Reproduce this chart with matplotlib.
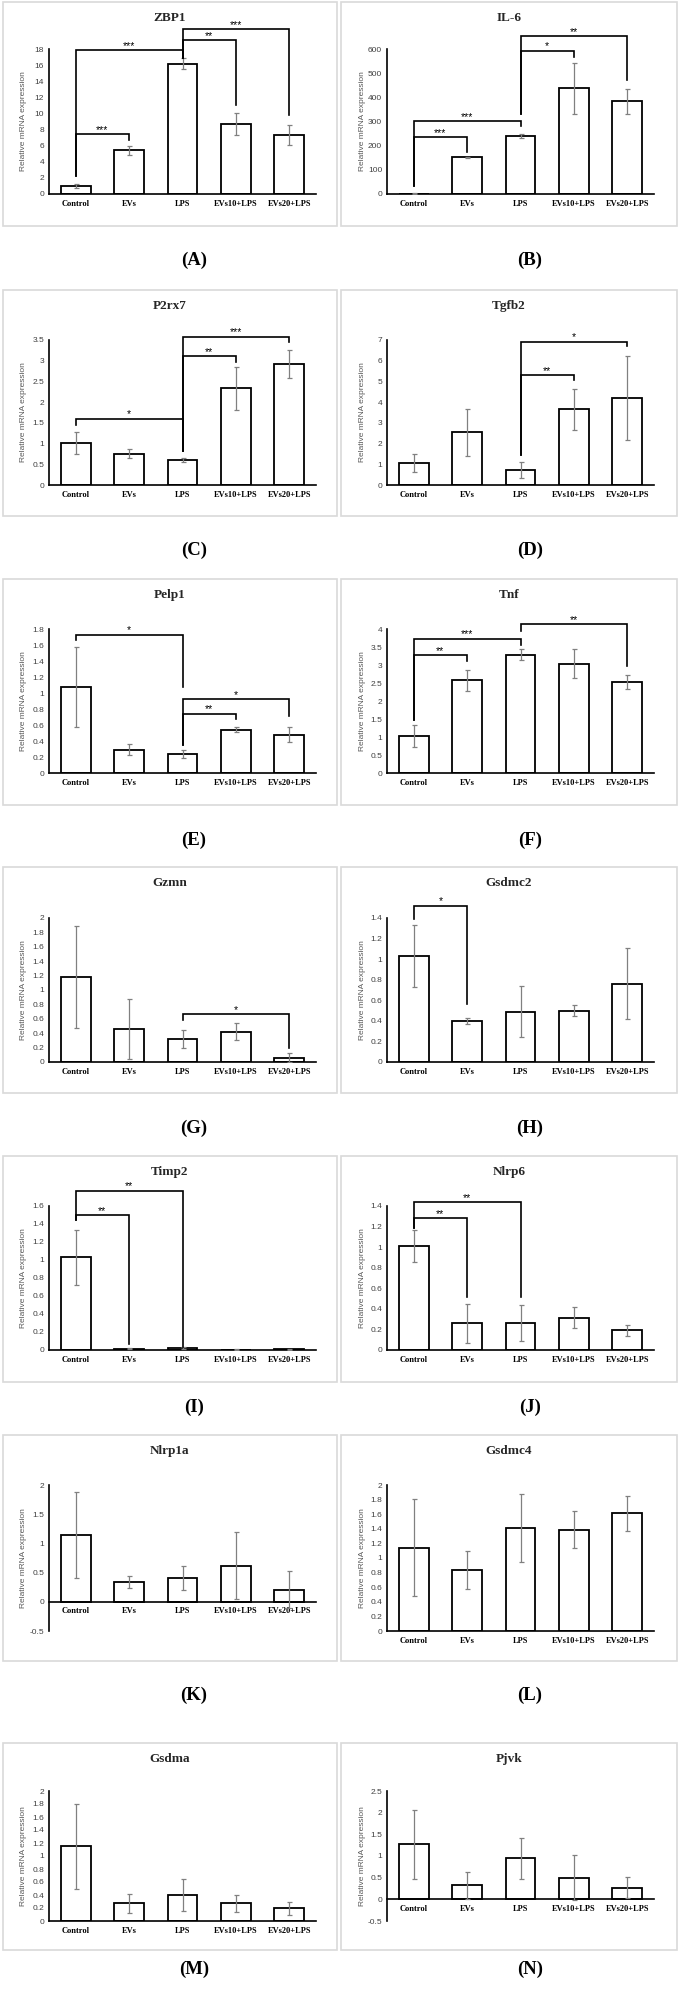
import matplotlib
matplotlib.use('Agg')
import matplotlib.pyplot as plt
from matplotlib.patches import Rectangle
import numpy as np

groups = ['Control', 'EVs', 'LPS', 'EVs10+LPS', 'EVs20+LPS']

# mean and error bar per gene
zbp1 = [1.0, 5.42, 16.2, 8.7, 7.3]
zbp1_err = [0.3, 0.6, 0.7, 1.35, 1.25]
il6 = [2, 152, 240, 437, 383]
il6_err = [1, 2, 10, 105, 50]
p2rx7 = [1.02, 0.75, 0.6, 2.33, 2.92]
p2rx7_err = [0.26, 0.11, 0.04, 0.51, 0.33]
tgfb2 = [1.05, 2.55, 0.71, 3.66, 4.21]
tgfb2_err = [0.44, 1.14, 0.38, 0.99, 2.04]
pelp1 = [1.08, 0.29, 0.24, 0.54, 0.48]
pelp1_err = [0.5, 0.07, 0.05, 0.03, 0.09]
tnf = [1.03, 2.57, 3.29, 3.04, 2.53]
tnf_err = [0.3, 0.28, 0.15, 0.4, 0.2]
gzmn = [1.18, 0.46, 0.32, 0.42, 0.06]
gzmn_err = [0.71, 0.42, 0.12, 0.12, 0.06]
gsdmc2 = [1.03, 0.4, 0.49, 0.5, 0.76]
gsdmc2_err = [0.305, 0.03, 0.25, 0.05, 0.345]
timp2 = [1.03, 0.015, 0.025, 0.004, 0.008]
timp2_err = [0.305, 0.005, 0.012, 0.002, 0.004]
nlrp6 = [1.01, 0.26, 0.26, 0.315, 0.19]
nlrp6_err = [0.155, 0.19, 0.175, 0.1, 0.05]
nlrp1a = [1.146, 0.34, 0.41, 0.62, 0.21]
nlrp1a_err = [0.74, 0.1, 0.2, 0.58, 0.31]
gsdmc4 = [1.14, 0.83, 1.41, 1.39, 1.61]
gsdmc4_err = [0.665, 0.26, 0.47, 0.25, 0.24]
gsdma = [1.15, 0.27, 0.4, 0.27, 0.2]
gsdma_err = [0.65, 0.15, 0.25, 0.13, 0.1]
pjvk = [1.27, 0.32, 0.95, 0.5, 0.27]
pjvk_err = [0.8, 0.31, 0.47, 0.52, 0.25]

# significance brackets: (left bar, right bar, height, left foot, right foot, stars)
zbp1_sig = [(0, 1, 7.45, 2.19, 6.74, '***'), (0, 2, 17.83, 2.19, 16.88, '***'),
            (2, 3, 19.07, 16.88, 11.09, '**'), (2, 4, 20.48, 16.88, 9.85, '***')]
il6_sig = [(0, 1, 234, 32, 172, '***'), (0, 2, 302, 32, 283, '***'),
           (2, 3, 593, 331, 567, '*'), (2, 4, 652, 331, 473, '**')]
p2rx7_sig = [(0, 2, 1.6, 1.44, 0.81, '*'), (2, 3, 3.11, 0.81, 2.98, '**'),
             (2, 4, 3.58, 0.81, 3.45, '***')]
tgfb2_sig = [(2, 3, 5.31, 1.44, 5.06, '**'), (2, 4, 6.92, 1.44, 6.71, '*')]
pelp1_sig = [(0, 2, 1.73, 1.66, 1.07, '*'), (2, 3, 0.74, 0.345, 0.68, '**'),
             (2, 4, 0.92, 0.345, 0.71, '*')]
tnf_sig = [(0, 1, 3.27, 1.48, 3.12, '**'), (0, 2, 3.73, 1.48, 3.56, '***'),
           (2, 4, 4.14, 3.95, 2.97, '**')]
gzmn_sig = [(2, 4, 0.665, 0.58, 0.2, '*')]
gsdmc2_sig = [(0, 1, 1.52, 1.39, 0.56, '*')]
timp2_sig = [(0, 1, 1.5, 1.44, 0.067, '**'), (0, 2, 1.77, 1.44, 0.037, '**')]
nlrp6_sig = [(0, 1, 1.28, 1.19, 0.515, '**'), (0, 2, 1.44, 1.19, 0.515, '**')]

panels = [
    ('ZBP1', zbp1, zbp1_err, (0, 18, 2), zbp1_sig, '(A)'),
    ('IL-6', il6, il6_err, (0, 600, 100), il6_sig, '(B)'),
    ('P2rx7', p2rx7, p2rx7_err, (0, 3.5, 0.5), p2rx7_sig, '(C)'),
    ('Tgfb2', tgfb2, tgfb2_err, (0, 7, 1), tgfb2_sig, '(D)'),
    ('Pelp1', pelp1, pelp1_err, (0, 1.8, 0.2), pelp1_sig, '(E)'),
    ('Tnf', tnf, tnf_err, (0, 4, 0.5), tnf_sig, '(F)'),
    ('Gzmn', gzmn, gzmn_err, (0, 2, 0.2), gzmn_sig, '(G)'),
    ('Gsdmc2', gsdmc2, gsdmc2_err, (0, 1.4, 0.2), gsdmc2_sig, '(H)'),
    ('Timp2', timp2, timp2_err, (0, 1.6, 0.2), timp2_sig, '(I)'),
    ('Nlrp6', nlrp6, nlrp6_err, (0, 1.4, 0.2), nlrp6_sig, '(J)'),
    ('Nlrp1a', nlrp1a, nlrp1a_err, (-0.5, 2, 0.5), [], '(K)'),
    ('Gsdmc4', gsdmc4, gsdmc4_err, (0, 2, 0.2), [], '(L)'),
    ('Gsdma', gsdma, gsdma_err, (0, 2, 0.2), [], '(M)'),
    ('Pjvk', pjvk, pjvk_err, (-0.5, 2.5, 0.5), [], '(N)'),
]

W, H = 678, 1993
fig = plt.figure(figsize=(W / 100, H / 100), dpi=100)
fig.patch.set_facecolor('white')

# row geometry in pixels: box top, box height, axes offset, axes height, label y
rows = [(2, 224, 47, 145, 260), (290, 226, 50, 145, 550), (579, 226, 50, 144, 840),
        (867, 226, 51, 144, 1128), (1156, 226, 50, 144, 1407), (1435, 226, 50, 146, 1695),
        (1743, 207, 48, 130, 1969)]
box_x = [3, 341]
box_w = [334, 336]
label_x = [194, 530]

serif = 'Liberation Serif'
sans = 'Liberation Sans'


def fig_axes(x, y, w, h):
    return fig.add_axes([x / W, 1 - (y + h) / H, w / W, h / H])


def bracket(ax, i, j, h, yl, yr, s):
    ax.plot([i, i, j, j], [yl, h, h, yr], color='black', lw=1.2, clip_on=False,
            solid_joinstyle='miter', zorder=4)
    ax.annotate(s, ((i + j) / 2, h), xytext=(0, -0.5), textcoords='offset points',
                ha='center', va='bottom', fontsize=7.5, family=sans,
                annotation_clip=False)


for k, (name, mean, err, (lo, hi, step), sig, letter) in enumerate(panels):
    r, c = divmod(k, 2)
    top, bh, aoff, ah, ly = rows[r]
    bx = box_x[c]
    fig.add_artist(Rectangle((bx / W, 1 - (top + bh) / H), box_w[c] / W, bh / H,
                             transform=fig.transFigure, fill=False,
                             ec='#d9d9d9', lw=1.2))

    ax = fig_axes(bx + 46, top + aoff, 267, ah)
    for s in ['top', 'right']:
        ax.spines[s].set_visible(False)
    for s in ['left', 'bottom']:
        ax.spines[s].set_linewidth(1.2)
        ax.spines[s].set_color('black')
    if lo < 0:
        ax.spines['bottom'].set_position(('data', 0))

    x = np.arange(len(groups))
    ax.bar(x, mean, width=0.56, color='white', edgecolor='black', lw=1.3, zorder=2)
    ax.errorbar(x, mean, yerr=err, fmt='none', ecolor='#808080', elinewidth=0.9,
                capsize=1.8, capthick=0.9, zorder=3)
    ax.set_xlim(-0.5, 4.5)
    ax.set_ylim(lo, hi)
    ticks = np.arange(lo, hi + step / 2, step)
    ax.set_yticks(ticks)
    ax.set_yticklabels([f'{round(t, 2):g}' for t in ticks], family=sans,
                       fontsize=6, color='#404040')
    ax.set_xticks(x)
    ax.set_xticklabels(groups, family=serif, fontweight='bold', fontsize=6)
    ax.tick_params(length=0)
    ax.tick_params(axis='y', pad=3.5)
    ax.tick_params(axis='x', pad=4)
    ax.set_facecolor('none')

    for b in sig:
        bracket(ax, *b)

    fig.text((bx + box_w[c] / 2) / W, 1 - (top + 16) / H, name, family=serif,
             fontweight='bold', fontsize=9.5, ha='center', va='center', color='#262626')
    fig.text((bx + 21) / W, 1 - (top + aoff + ah / 2) / H, 'Relative mRNA expression',
             family=sans, fontsize=6, color='#595959', rotation=90,
             ha='center', va='center')
    fig.text(label_x[c] / W, 1 - ly / H, letter, family=serif, fontweight='bold',
             fontsize=13.5, ha='center', va='center')

fig.savefig('out.png', dpi=100, facecolor='white')
